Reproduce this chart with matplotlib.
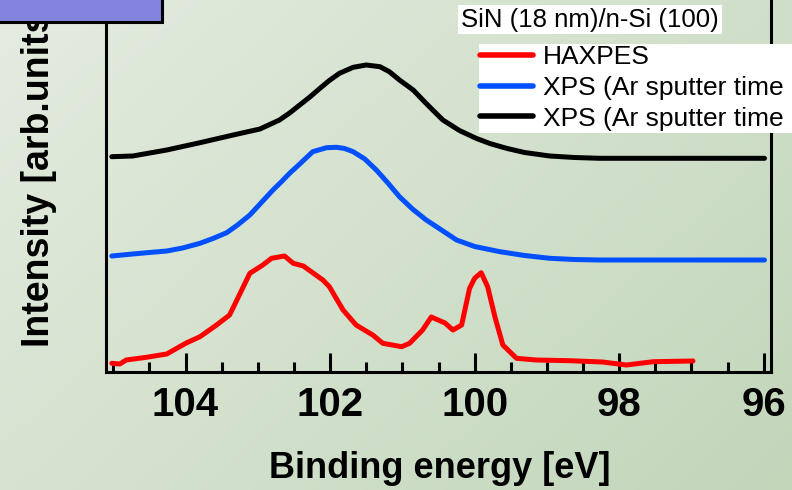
import numpy as np
import matplotlib
matplotlib.use("Agg")
import matplotlib.pyplot as plt
from matplotlib.ticker import MultipleLocator
from matplotlib.patches import Rectangle

# ---------------- data ----------------
energy_haxpes = [105.02, 104.91, 104.82, 104.54, 104.26, 103.99, 103.80, 103.57, 103.39,
                 103.11, 102.93, 102.81, 102.63, 102.51, 102.37, 102.10, 102.01, 101.82,
                 101.64, 101.41, 101.27, 101.01, 100.90, 100.72, 100.60, 100.41, 100.30,
                 100.18, 100.07, 100.00, 99.91, 99.82, 99.72, 99.61, 99.42, 99.15, 98.69,
                 98.23, 97.90, 97.53, 96.98]
intensity_haxpes = [8.7, 8.0, 12.0, 14.7, 18.0, 29.0, 35.3, 47.0, 57.0,
                    98.7, 107.0, 113.7, 116.0, 108.7, 106.0, 92.0, 85.3, 62.0,
                    47.0, 37.0, 28.7, 25.3, 28.7, 42.0, 55.0, 49.0, 42.0,
                    47.0, 83.7, 93.7, 99.3, 85.3, 55.3, 27.0, 13.7, 12.0, 11.3,
                    10.0, 7.0, 10.3, 11.0]

energy_xps1 = [105.02, 104.73, 104.50, 104.26, 104.04, 103.80, 103.62, 103.43, 103.28,
               103.11, 102.95, 102.79, 102.67, 102.56, 102.42, 102.24, 102.05, 101.91,
               101.80, 101.68, 101.52, 101.36, 101.20, 101.04, 100.86, 100.67, 100.48,
               100.25, 100.00, 99.65, 99.31, 98.96, 98.62, 98.27, 97.35, 95.99]
intensity_xps1 = [116.0, 118.0, 119.5, 121.0, 124.0, 128.7, 133.5, 139.3, 147.0,
                  157.0, 169.5, 182.0, 190.5, 198.7, 208.0, 220.3, 224.3, 224.7,
                  223.5, 220.3, 213.0, 202.0, 189.0, 175.3, 163.0, 152.0, 143.0,
                  132.0, 125.5, 120.3, 116.5, 113.7, 112.5, 112.0, 112.0, 112.0]

energy_xps2 = [105.02, 104.73, 104.26, 103.80, 103.34, 102.97, 102.70, 102.56, 102.42,
               102.28, 102.14, 102.01, 101.87, 101.68, 101.50, 101.31, 101.18, 101.04,
               100.85, 100.69, 100.58, 100.44, 100.21, 99.98, 99.79, 99.56, 99.31,
               98.96, 98.62, 98.27, 97.35, 95.99]
intensity_xps2 = [215.3, 216.0, 222.0, 229.3, 237.0, 243.0, 252.0, 259.0, 267.0,
                  275.0, 283.7, 291.5, 298.7, 304.7, 307.0, 305.3, 300.3, 292.0,
                  282.0, 270.0, 262.0, 252.0, 241.5, 233.7, 228.5, 223.7, 219.5,
                  216.0, 214.5, 213.7, 213.7, 213.7]

series_labels = ["HAXPES", "XPS (Ar sputter time", "XPS (Ar sputter time"]
series_colors = ["#ff0000", "#0050ff", "#000000"]
title_text = "SiN (18 nm)/n-Si (100)"
x_label = "Binding energy [eV]"
y_label = "Intensity [arb.units]"
x_ticks = [104, 102, 100, 98, 96]

# ---------------- figure ----------------
W, H = 792, 490
fig = plt.figure(figsize=(W / 100, H / 100), dpi=100)

def fx(x):
    return x / W

def fy(y):
    return 1 - y / H

# background gradient (light top-left to darker green bottom-right)
bg = fig.add_axes([0, 0, 1, 1], zorder=-10)
gx, gy = np.meshgrid(np.linspace(0, 1, 200), np.linspace(0, 1, 200))
t = np.clip((gx * 0.6 + gy * 0.4), 0, 1)
c0 = np.array([228, 236, 224]) / 255
c1 = np.array([194, 214, 186]) / 255
img = c0[None, None, :] * (1 - t[..., None]) + c1[None, None, :] * t[..., None]
bg.imshow(img, aspect="auto", extent=[0, 1, 0, 1], origin="upper")
bg.axis("off")

ax = fig.add_axes([fx(106), fy(372), fx(771) - fx(106), 1 - fy(372)])
ax.set_facecolor("none")

lw = 3.6
style = dict(lw=lw, solid_capstyle="round", solid_joinstyle="round")
l1, = ax.plot(energy_haxpes, intensity_haxpes, color=series_colors[0],
              label=series_labels[0], **style)
l2, = ax.plot(energy_xps1, intensity_xps1, color=series_colors[1],
              label=series_labels[1], **style)
l3, = ax.plot(energy_xps2, intensity_xps2, color=series_colors[2],
              label=series_labels[2], **style)

ax.set_xlim(105.1, 95.9)
ax.set_ylim(0, 372)
ax.xaxis.set_minor_locator(MultipleLocator(0.5))
ax.set_xticks(x_ticks)
ax.set_yticks([])
ax.spines["top"].set_visible(False)
for s in ["left", "right", "bottom"]:
    ax.spines[s].set_linewidth(2.2)
ax.tick_params(axis="x", which="major", direction="in", length=14, width=2.2,
               pad=10, labelsize=29)
ax.tick_params(axis="x", which="minor", direction="in", length=7, width=2.2)
for lab in ax.get_xticklabels():
    lab.set_fontfamily("Liberation Sans")
    lab.set_fontweight("bold")

# axis labels
fig.text(fx(440), fy(478), x_label, ha="center", va="baseline",
         fontsize=26, fontweight="bold", family="Liberation Sans")
fig.text(fx(39), fy(347), y_label, ha="center", va="bottom", rotation=90,
         fontsize=27, fontweight="bold", family="Liberation Sans")

# blue box at top-left
fig.add_artist(Rectangle((fx(-10), fy(22)), fx(172), 1 - fy(22) + 0.05,
                         transform=fig.transFigure, facecolor="#8484e0",
                         edgecolor="black", linewidth=2.2, zorder=6))

# title with white background
fig.text(fx(590), fy(19.5), title_text, ha="center", va="center", fontsize=18.5,
         family="Liberation Sans", zorder=7,
         bbox=dict(facecolor="white", edgecolor="none", pad=2))

# legend with white panel behind
fig.add_artist(Rectangle((fx(479), fy(133)), fx(800) - fx(479), fy(44) - fy(133),
                         transform=fig.transFigure, facecolor="white",
                         edgecolor="none", zorder=4))
leg = fig.legend(handles=[l1, l2, l3], labels=series_labels, loc="upper left",
                 bbox_to_anchor=(fx(479), fy(44)), frameon=False,
                 prop={"family": "Liberation Sans", "size": 19},
                 handlelength=2.0, handletextpad=0.38, borderpad=0.05,
                 labelspacing=0.25, borderaxespad=0)
leg.set_zorder(5)
for ln in leg.get_lines():
    ln.set_linewidth(4)

fig.savefig("out.png", dpi=100)
